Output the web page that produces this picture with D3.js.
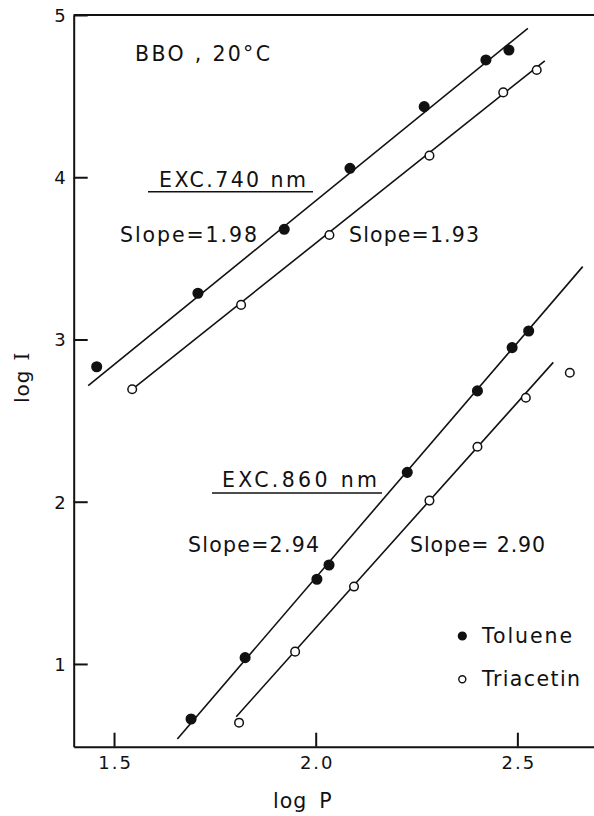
<!DOCTYPE html>
<html><head><meta charset="utf-8">
<script src="https://cdn.jsdelivr.net/npm/d3@7"></script>
<style>
html,body{margin:0;padding:0;background:#fff;}
svg{display:block;}
text{font-family:"DejaVu Sans",sans-serif;fill:#111;}
</style></head>
<body>
<svg id="chart" width="594" height="816"></svg>
<script>
// ---- data (log P, log I) ----
const xTicks = [1.5, 2.0, 2.5];
const yTicks = [1, 2, 3, 4, 5];
const upperToluene = [[1.457,2.832],[1.708,3.285],[1.922,3.679],[2.085,4.055],[2.269,4.435],[2.422,4.723],[2.479,4.784]];
const upperTriacetin = [[1.545,2.693],[1.815,3.213],[2.034,3.644],[2.282,4.133],[2.465,4.523],[2.548,4.661]];
const lowerToluene = [[1.691,0.661],[1.825,1.039],[2.003,1.522],[2.033,1.610],[2.227,2.181],[2.401,2.683],[2.487,2.950],[2.528,3.052]];
const lowerTriacetin = [[1.810,0.638],[1.949,1.076],[2.095,1.477],[2.282,2.007],[2.401,2.339],[2.521,2.641],[2.630,2.795]];
const fitUpperToluene = [[1.436,2.715],[2.526,4.918]];
const fitUpperTriacetin = [[1.545,2.693],[2.568,4.718]];
const fitLowerToluene = [[1.657,0.538],[2.662,3.449]];
const fitLowerTriacetin = [[1.803,0.675],[2.589,2.859]];
const legendLabels = ["Toluene", "Triacetin"];

const svg = d3.select("#chart");
const x = d3.scaleLinear().domain([1.4, 2.69]).range([73.7, 594]);
const y = d3.scaleLinear().domain([0.49, 5]).range([746.7, 15]);

// axes
const fmtX = d3.format(".1f");
const xAxis = svg.append("g").attr("transform", `translate(0,${y(0.49)})`)
  .call(d3.axisBottom(x).tickValues(xTicks).tickFormat(fmtX).tickSizeInner(-14).tickSizeOuter(0).tickPadding(10));
const yAxis = svg.append("g").attr("transform", `translate(${x(1.4)},0)`)
  .call(d3.axisLeft(y).tickValues(yTicks).tickFormat(d3.format("d")).tickSizeInner(-14).tickSizeOuter(0).tickPadding(8));
[xAxis, yAxis].forEach(g => {
  g.select(".domain").attr("stroke", "#111").attr("stroke-width", 2);
  g.selectAll(".tick line").attr("stroke", "#111").attr("stroke-width", 2);
  g.selectAll(".tick text").attr("font-size", 18).attr("fill", "#111")
    .attr("font-family", "DejaVu Sans").style("letter-spacing", "2px");
});
xAxis.selectAll(".tick text").attr("dx", "1px");
yAxis.selectAll(".tick text").attr("dy", "0.36em").style("letter-spacing", "0px");
// top frame line
svg.append("line").attr("x1", x(1.4)).attr("x2", x(2.69)).attr("y1", y(5)).attr("y2", y(5))
  .attr("stroke", "#111").attr("stroke-width", 2);

// fit lines
const line = d3.line().x(d => x(d[0])).y(d => y(d[1]));
[fitUpperToluene, fitUpperTriacetin, fitLowerToluene, fitLowerTriacetin].forEach(f => {
  svg.append("path").attr("d", line(f)).attr("fill", "none").attr("stroke", "#111").attr("stroke-width", 1.6);
});

// points
function pts(data, filled) {
  svg.append("g").selectAll("circle").data(data).join("circle")
    .attr("cx", d => x(d[0])).attr("cy", d => y(d[1])).attr("r", filled ? 4.8 : 4.3)
    .attr("fill", filled ? "#111" : "#fff").attr("stroke", "#111").attr("stroke-width", 1.5);
}
pts(upperToluene, true); pts(upperTriacetin, false);
pts(lowerToluene, true); pts(lowerTriacetin, false);

// annotations
function label(t, px, py, len) {
  return svg.append("text").attr("x", px).attr("y", py).attr("font-size", 20.5)
    .attr("textLength", len).attr("lengthAdjust", "spacing")
    .style("white-space", "pre").text(t);
}
label("BBO , 20°C", 135, 61, 135);
label("EXC.740 nm", 159, 187, 147);
svg.append("line").attr("x1", 148).attr("x2", 313).attr("y1", 191.7).attr("y2", 191.7).attr("stroke", "#111").attr("stroke-width", 1.6);
label("Slope=1.98", 120, 242, 137);
label("Slope=1.93", 349, 242, 130);
label("EXC.860 nm", 222, 487, 155);
svg.append("line").attr("x1", 212).attr("x2", 382).attr("y1", 493).attr("y2", 493).attr("stroke", "#111").attr("stroke-width", 1.6);
label("Slope=2.94", 188, 552, 131);
label("Slope= 2.90", 410, 552, 135);

// legend
const leg = svg.append("g");
legendLabels.forEach((t, i) => {
  const cy = 636 + i * 43.3;
  leg.append("circle").attr("cx", 462.3).attr("cy", cy).attr("r", i === 0 ? 3.9 : 3.5)
    .attr("fill", i === 0 ? "#111" : "#fff").attr("stroke", "#111").attr("stroke-width", 1.4);
  leg.append("text").attr("x", 482).attr("y", cy + 7).attr("font-size", 20.5)
    .attr("textLength", i === 0 ? 90 : 98).attr("lengthAdjust", "spacing").text(t);
});

// axis titles
const xt = svg.append("text").attr("x", 273).attr("y", 808).attr("font-size", 20.5).style("letter-spacing", "1px");
xt.append("tspan").text("log");
xt.append("tspan").attr("dx", 12).text("P");
const yt = svg.append("text").attr("transform", "translate(29,403) rotate(-90)").attr("font-size", 20).style("letter-spacing", "1px");
yt.append("tspan").text("log");
yt.append("tspan").attr("dx", 9).attr("font-family", "DejaVu Serif").text("I");
</script>
</body></html>
